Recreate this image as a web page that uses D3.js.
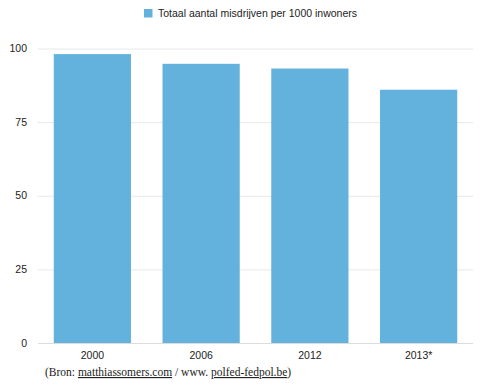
<!DOCTYPE html>
<html>
<head>
<meta charset="utf-8">
<script src="https://cdn.jsdelivr.net/npm/d3@7"></script>
<style>
  body { margin: 0; background: #fff; }
  svg { display: block; }
</style>
</head>
<body>
<div id="chart"></div>
<script>
// data
const years = ["2000", "2006", "2012", "2013*"];
const values = [98.1, 94.8, 93.2, 86.0];
const ticks = [0, 25, 50, 75, 100];
const seriesName = "Totaal aantal misdrijven per 1000 inwoners";

const width = 480, height = 389;
const margin = { top: 48.5, right: 7, bottom: 46, left: 38 };
const barColor = "#63b2de";

let svg = d3.select("#chart")
    .append("svg")
    .attr("width", width)
    .attr("height", height);

let x = d3.scaleBand()
    .domain(years)
    .range([margin.left, width - margin.right])
    .paddingInner(0.29)
    .paddingOuter(0.145);

let y = d3.scaleLinear()
    .domain([0, 100])
    .range([height - margin.bottom, margin.top]);

// gridlines
svg.selectAll(".grid")
    .data(ticks)
    .join("line")
    .attr("class", "grid")
    .attr("x1", margin.left)
    .attr("x2", width - margin.right)
    .attr("y1", d => y(d) + 0.5)
    .attr("y2", d => y(d) + 0.5)
    .attr("stroke", d => d === 0 ? "#dcdcdc" : "#e8e8e8")
    .attr("stroke-width", 1);

// y tick labels
svg.selectAll(".ylab")
    .data(ticks)
    .join("text")
    .attr("class", "ylab")
    .attr("x", 27)
    .attr("y", d => y(d))
    .attr("dy", "0.35em")
    .attr("text-anchor", "end")
    .attr("font-family", "Liberation Sans, Arial, sans-serif")
    .attr("font-size", 10.5)
    .attr("fill", "#222")
    .text(d => d);

// bars
svg.selectAll(".bar")
    .data(values)
    .join("rect")
    .attr("class", "bar")
    .attr("x", (d, i) => x(years[i]))
    .attr("width", x.bandwidth())
    .attr("y", d => y(d))
    .attr("height", d => y(0) - y(d))
    .attr("fill", barColor);

// x labels
let xAxis = svg.append("g")
    .attr("transform", `translate(0,${y(0)})`)
    .call(d3.axisBottom(x).tickSize(0).tickPadding(9));
xAxis.select(".domain").remove();
xAxis.selectAll("text")
    .attr("font-family", "Liberation Sans, Arial, sans-serif")
    .attr("font-size", 10.5)
    .attr("fill", "#222");

// legend
let legend = svg.append("g").attr("transform", "translate(144,9)");
legend.append("rect")
    .attr("width", 8.5)
    .attr("height", 8.5)
    .attr("fill", barColor);
legend.append("text")
    .attr("x", 14)
    .attr("y", 4.5)
    .attr("dy", "0.35em")
    .attr("font-family", "Liberation Sans, Arial, sans-serif")
    .attr("font-size", 10.5)
    .attr("fill", "#222")
    .text(seriesName);

// source line
let source = svg.append("text")
    .attr("x", 45)
    .attr("y", 376)
    .attr("font-family", "Liberation Serif, Times New Roman, serif")
    .attr("font-size", 11.5)
    .attr("fill", "#222");
source.append("tspan").text("(Bron: ");
source.append("tspan").attr("text-decoration", "underline").text("matthiassomers.com");
source.append("tspan").text(" / www. ");
source.append("tspan").attr("text-decoration", "underline").text("polfed-fedpol.be");
source.append("tspan").text(")");
</script>
</body>
</html>
